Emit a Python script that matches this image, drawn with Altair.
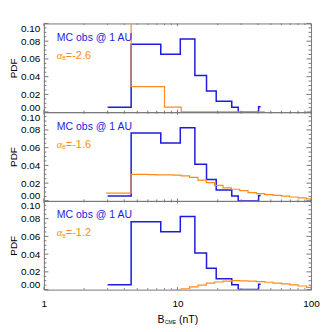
import altair as alt
import pandas as pd

W, H = 268, 89
FONT = "Liberation Sans"
BLUE = "#1c1cdc"
ORANGE = "#ff8c1a"
GREY = "#777777"

# MC observations at 1 AU: histogram of 3 nT bins, drawn from first to last bin centre
BLUE_X = [3, 4.5, 7.5, 10.5, 13.5, 16.5, 19.5, 22.5, 25.5, 28.5, 31.5, 34.5, 37.5, 40.5, 42]
BLUE_PDF = [0.0056, 0.0765, 0.0653, 0.0824, 0.0414, 0.024, 0.0123, 0.0123, 0.0056,
            0.0, 0.0, 0.0, 0.0, 0.006]

# model PDFs on logarithmic bins (16 per decade) starting at 4.5 nT
ORANGE_BIN_START = 4.5
ORANGE_BINS_PER_DECADE = 16
ORANGE_FIRST_BIN = [-1, -3, 5]
ORANGE_PDF = [
    [0.5, 0.0287, 0.0287, 0.0287, 0.0287, 0.0056, 0.0056,
     0.0005, 0.0005, 0.0005, 0.0005, 0.0005, 0.0005, 0.0005, 0.0005, 0.0005, 0.0005],
    [0.0088, 0.0088, 0.0088, 0.030, 0.030, 0.0297, 0.0294, 0.0293, 0.0291,
     0.0281, 0.0265, 0.0235, 0.0206, 0.0176, 0.0147, 0.0131, 0.0116, 0.0093,
     0.0083, 0.0071, 0.0063, 0.0054, 0.0044, 0.0035, 0.0022],
    [0.0, 0.001, 0.003, 0.005, 0.0073, 0.0086, 0.0096, 0.0102, 0.0098, 0.0095,
     0.009, 0.0083, 0.0073, 0.0064, 0.0054, 0.0041, 0.0025],
]
ALPHAS = ["-2.6", "-1.6", "-1.2"]

Y_MAJOR = [0.0, 0.02, 0.04, 0.06, 0.08, 0.10]
Y_MINOR = [0.005, 0.01, 0.015, 0.025, 0.03, 0.035, 0.045, 0.05, 0.055,
           0.065, 0.07, 0.075, 0.085, 0.09, 0.095]
X_MAJOR = [1, 10, 100]
X_MINOR = [2, 3, 4, 5, 6, 7, 8, 9, 20, 30, 40, 50, 60, 70, 80, 90]

XSCALE = alt.Scale(type="log", domain=[1, 100], nice=False)
YSCALE = alt.Scale(domain=[0, 0.10], nice=False, zero=False)


def step_frame(first_bin, vals):
    ks = range(first_bin, first_bin + len(vals) + 1)
    xs = [ORANGE_BIN_START * 10 ** (k / ORANGE_BINS_PER_DECADE) for k in ks]
    ys = list(vals) + [vals[-1]]
    return pd.DataFrame({"x": xs, "y": ys})


def panel(i, bottom):
    if bottom:
        xaxis = alt.Axis(values=X_MAJOR, format="~g", labelFlush=False, ticks=False,
                         domain=False, grid=False, labelPadding=9, labelFontSize=10,
                         labelFont=FONT, labelColor="black", title=None)
    else:
        xaxis = None
    yaxis = alt.Axis(values=Y_MAJOR, format=".2f", labelFlush=True, ticks=False,
                     domain=False, grid=False, title="PDF", titleFontSize=10,
                     titleFont=FONT, titleFontWeight="normal", titleColor="black",
                     titlePadding=2, labelPadding=4, labelFontSize=10, labelFont=FONT,
                     labelColor="black")
    X = alt.X("x:Q", scale=XSCALE, axis=xaxis)
    Y = alt.Y("y:Q", scale=YSCALE, axis=yaxis)

    blue_df = pd.DataFrame({"x": BLUE_X, "y": BLUE_PDF + [BLUE_PDF[-1]]})
    blue = alt.Chart(blue_df).mark_line(interpolate="step-after", color=BLUE,
                                        strokeWidth=1.5, clip=True).encode(x=X, y=Y)
    orange = alt.Chart(step_frame(ORANGE_FIRST_BIN[i], ORANGE_PDF[i])).mark_line(
        interpolate="step-after", color=ORANGE, strokeWidth=1.2, clip=True).encode(x=X, y=Y)

    layers = [blue, orange]

    # inward ticks (IDL style) on all four sides
    for vals, ln in ((Y_MAJOR, 4.5), (Y_MINOR, 2.5)):
        d = pd.DataFrame({"y": vals})
        for x0, x1 in ((0, ln), (W - ln, W)):
            layers.append(alt.Chart(d).mark_rule(color=GREY, strokeWidth=1).encode(
                y=Y, x=alt.value(x0), x2=alt.value(x1)))
    for vals, ln in ((X_MAJOR, 2.5), (X_MINOR, 1.5)):
        d = pd.DataFrame({"x": vals})
        for y0, y1 in ((0, ln), (H - ln, H)):
            layers.append(alt.Chart(d).mark_rule(color=GREY, strokeWidth=1).encode(
                x=X, y=alt.value(y0), y2=alt.value(y1)))

    def txt(s, x, y, size, color, **kw):
        return alt.Chart(pd.DataFrame({"t": [s]})).mark_text(
            align="left", baseline="middle", fontSize=size, color=color,
            font=kw.pop("font", FONT), **kw).encode(
            x=alt.value(x), y=alt.value(y), text="t:N")

    layers.append(txt("MC obs @ 1 AU", 13, 14.5, 10.5, BLUE))
    layers.append(txt("\u03b1", 13, 32.5, 11, ORANGE, fontStyle="italic",
                      font="Liberation Serif"))
    layers.append(txt("B", 18.5, 35, 5.5, ORANGE))
    layers.append(txt("=" + ALPHAS[i], 22, 32.5, 11, ORANGE))

    if bottom:
        layers.append(txt("B", 114, H + 30, 10.5, "black"))
        layers.append(txt("CME", 121.5, H + 32.5, 5, "black"))
        layers.append(txt("(nT)", 135.5, H + 30, 10.5, "black"))

    return alt.layer(*layers).properties(width=W, height=H)


chart = alt.vconcat(panel(0, False), panel(1, False), panel(2, True),
                    spacing=0, bounds="flush").properties(
    padding={"top": 14, "left": 0, "right": 4, "bottom": 0}
).configure_view(stroke=GREY, strokeWidth=1).configure_axis(labelOverlap=False)

chart.save("out.html", embed_options={"renderer": "svg", "actions": False})
